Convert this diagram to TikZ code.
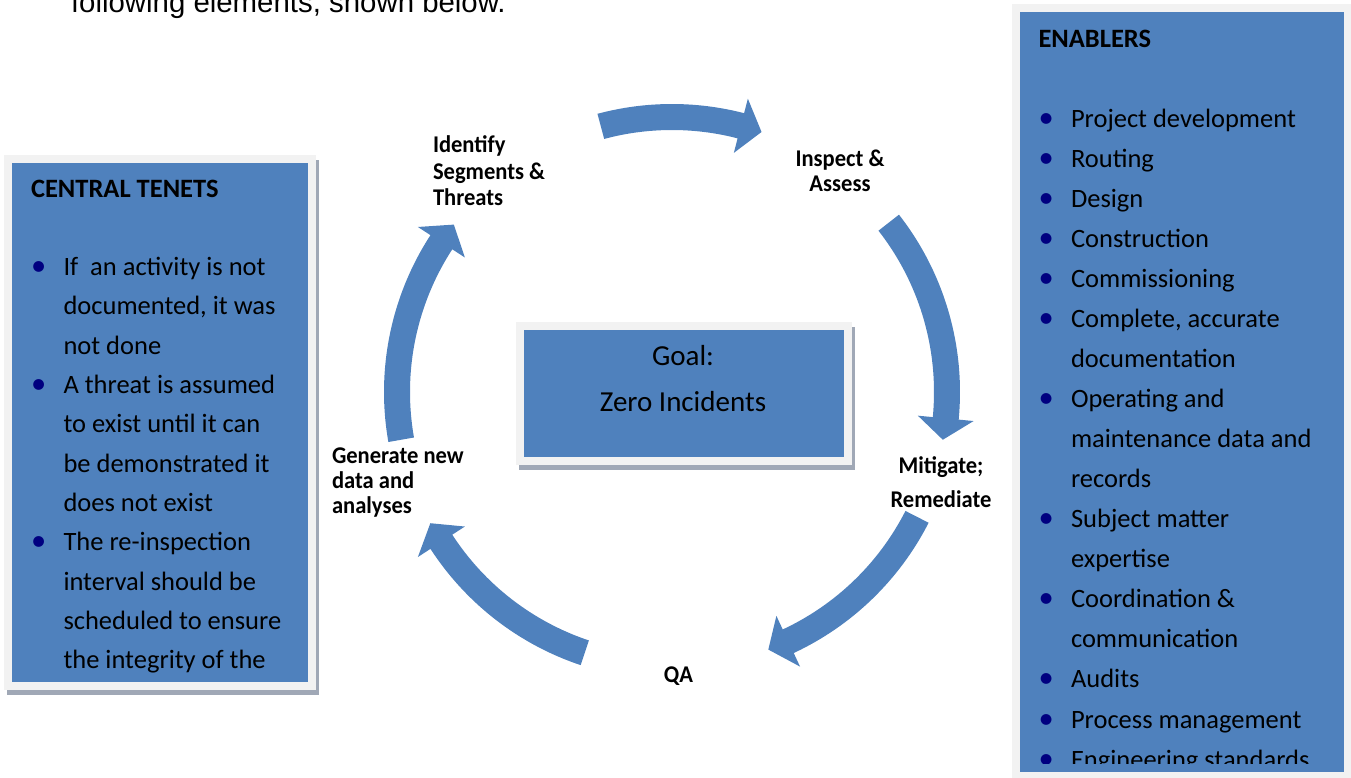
\documentclass[tikz,border=0pt]{standalone}
\usepackage{fontspec}
\setmainfont{Carlito}
\newfontfamily\cyclefont{Carlito}[FakeStretch=0.94]
\newfontfamily\introfont{Liberation Sans}
\definecolor{boxblue}{RGB}{79,129,189}
\definecolor{framegray}{RGB}{242,242,242}
\definecolor{shadegray}{RGB}{160,168,182}
\definecolor{bulletnavy}{RGB}{0,0,128}
\newcommand{\bul}{\makebox[32.5pt][l]{\textcolor{bulletnavy}{\scalebox{1.15}{\textbullet}}}}
\newcommand{\ind}{\hspace*{32.5pt}}
\newcommand{\panel}[4]{%
  \fill[shadegray] (#1+3,#2+5) rectangle (#3+3,#4+5);
  \fill[framegray] (#1,#2) rectangle (#3,#4);
  \fill[boxblue] (#1+8,#2+8) rectangle (#3-8,#4-8);}
\newcommand{\cycarrow}[3]{%
  \fill[boxblue] (#1:288) arc[start angle=#1, end angle=#2, radius=288]
    -- (#2:303) -- (#3:275) -- (#2:247) -- (#2:262)
    arc[start angle=#2, end angle=#1, radius=262] -- cycle;}
\begin{document}
\begin{tikzpicture}[x=1pt, y=-1pt,
    every node/.style={inner sep=0pt, outer sep=0pt},
    listtext/.style={anchor=north west, align=left, font=\fontsize{26.5}{#1}\selectfont},
    steplabel/.style={font=\cyclefont\bfseries\fontsize{24}{#1}\selectfont}]
    \useasboundingbox (0,0) rectangle (1351,778);

    \node[anchor=base west, font=\introfont\fontsize{29.4}{35}\selectfont] (intro) at (71,13) {following elements, shown below.};

    \panel{4}{155}{316}{690}
    \panel{516}{322}{852}{465}
    \panel{1012}{4}{1352}{780}

    \begin{scope}
        \clip (12,162) rectangle (308,672);
        \node[listtext=39.3] (tenets) at (31,169.5) {\strut\textbf{CENTRAL TENETS}\\ \\
            \bul If\ \ an activity is not\\ \ind documented, it was\\ \ind not done\\
            \bul A threat is assumed\\ \ind to exist until it can\\ \ind be demonstrated it\\ \ind does not exist\\
            \bul The re-inspection\\ \ind interval should be\\ \ind scheduled to ensure\\ \ind the integrity of the};
    \end{scope}

    \begin{scope}
        \clip (1020,12) rectangle (1344,763);
        \node[listtext=40.06] (enablers) at (1038.5,18.96) {\strut\textbf{ENABLERS}\\ \\
            \bul Project development\\ \bul Routing\\ \bul Design\\ \bul Construction\\ \bul Commissioning\\
            \bul Complete, accurate\\ \ind documentation\\
            \bul Operating and\\ \ind maintenance data and\\ \ind records\\
            \bul Subject matter\\ \ind expertise\\
            \bul Coordination \&\\ \ind communication\\
            \bul Audits\\ \bul Process management\\ \bul Engineering standards};
    \end{scope}

    \node[anchor=north, align=center, font=\fontsize{29}{46}\selectfont] (goal) at (683,332.8) {\strut Goal:\\Zero Incidents};

    \node[steplabel=26, anchor=north west, align=left] (identify) at (433,134.8) {\strut Identify\\Segments \&\\Threats};
    \node[steplabel=25, anchor=north, align=center] (inspect) at (840,149.5) {\strut Inspect \&\\Assess};
    \node[steplabel=34, anchor=north, align=center] (mitigate) at (941,449.2) {\strut Mitigate;\\Remediate};
    \node[steplabel=25, anchor=base] (qa) at (678.5,682) {QA};
    \node[steplabel=25, anchor=north west, align=left] (generate) at (332,445.5) {\strut Generate new\\data and\\analyses};

    \coordinate (hub) at (672,392);
    \begin{scope}[shift={(hub)}]
        \cycarrow{-105}{-75.5}{-71}
        \cycarrow{-38}{5.5}{10}
        \cycarrow{27}{65}{69.5}
        \cycarrow{108.5}{147}{151.5}
        \cycarrow{-190}{-147}{-142.5}
    \end{scope}
\end{tikzpicture}
\end{document}
